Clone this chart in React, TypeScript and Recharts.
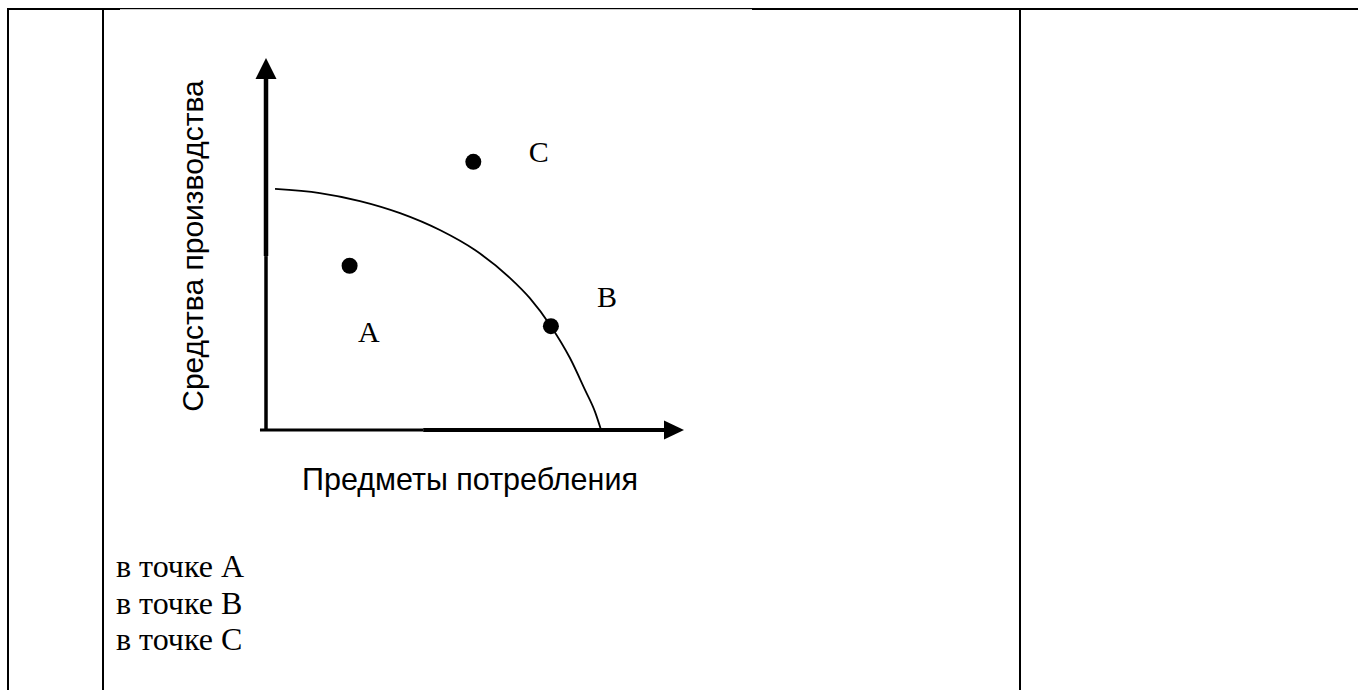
import { ComposedChart, Line, ReferenceLine, Scatter, XAxis, YAxis } from "recharts";

// production possibility frontier (x: consumer goods, y: means of production)
const frontierX = [0.27, 1.61, 2.81, 4.01, 5.2, 6.25, 7.3, 7.89, 8.52, 9.09, 9.54, 9.84, 10.02];
const frontierY = [9.98, 9.81, 9.48, 8.98, 8.28, 7.45, 6.29, 5.46, 4.3, 2.98, 1.66, 0.75, 0];

const pointNames = ["A", "B", "C"];
const pointX = [2.5, 8.52, 6.2];
const pointY = [6.8, 4.3, 11.1];
const labelX = [2.75, 9.9, 7.86];
const labelY = [3.64, 5.09, 11.09];

const answerLines = ["в точке A", "в точке B", "в точке C"];

const xTitle = "Предметы потребления";
const yTitle = "Средства производства";

const X_MAX = 12.5;
const Y_MAX = 15.4;

const frontier = frontierX.map((x, i) => ({ x, y: frontierY[i] }));
const points = pointNames.map((name, i) => ({ name, x: pointX[i], y: pointY[i] }));
const labels = pointNames.map((name, i) => ({ name, x: labelX[i], y: labelY[i] }));
const arrowTips = [
  { x: X_MAX, y: 0, dir: "right" },
  { x: 0, y: Y_MAX, dir: "up" },
];

const serif = '"Liberation Serif", "Times New Roman", serif';
const sans = '"Liberation Sans", Arial, sans-serif';

function Dot(props: any) {
  return <circle cx={props.cx} cy={props.cy} r={8} fill="#000" />;
}

function PointLabel(props: any) {
  return (
    <text x={props.cx} y={props.cy} fontFamily={serif} fontSize={30} fill="#000">
      {props.payload.name}
    </text>
  );
}

function Arrow(props: any) {
  const { cx, cy, payload } = props;
  const pts =
    payload.dir === "right"
      ? `${cx},${cy} ${cx - 20},${cy - 9.5} ${cx - 20},${cy + 9.5}`
      : `${cx},${cy} ${cx - 10.5},${cy + 21} ${cx + 10.5},${cy + 21}`;
  return <polygon points={pts} fill="#000" />;
}

export default function App() {
  return (
    <div style={{ position: "absolute", left: 0, top: 0, width: 1358, height: 690, overflow: "hidden", background: "#fff" }}>
      <div style={{ position: "absolute", left: 150, top: 30 }}>
        <ComposedChart width={600} height={440} margin={{ top: 28, right: 66, bottom: 40, left: 116 }}>
          <XAxis type="number" dataKey="x" domain={[0, X_MAX]} hide />
          <YAxis type="number" dataKey="y" domain={[0, Y_MAX]} hide />
          <ReferenceLine ifOverflow="visible" segment={[{ x: 0, y: 0 }, { x: 0, y: 7.2 }]} stroke="#000" strokeWidth={3.5} />
          <ReferenceLine ifOverflow="visible" segment={[{ x: 0, y: 7.2 }, { x: 0, y: Y_MAX - 0.8 }]} stroke="#000" strokeWidth={4.5} />
          <ReferenceLine ifOverflow="visible" segment={[{ x: -0.18, y: 0 }, { x: 4.7, y: 0 }]} stroke="#000" strokeWidth={3} />
          <ReferenceLine ifOverflow="visible" segment={[{ x: 4.7, y: 0 }, { x: X_MAX - 0.5, y: 0 }]} stroke="#000" strokeWidth={4} />
          <Line
            data={frontier}
            dataKey="y"
            type="monotone"
            stroke="#000"
            strokeWidth={1.8}
            dot={false}
            activeDot={false}
            isAnimationActive={false}
          />
          <Scatter data={arrowTips} dataKey="y" shape={Arrow} isAnimationActive={false} />
          <Scatter data={points} dataKey="y" shape={Dot} isAnimationActive={false} />
          <Scatter data={labels} dataKey="y" shape={PointLabel} isAnimationActive={false} />
        </ComposedChart>
      </div>
      <svg width={1358} height={690} style={{ position: "absolute", left: 0, top: 0, pointerEvents: "none" }}>
        {/* table borders */}
        <rect x={7} y={8} width={113} height={2} fill="#000" />
        <rect x={120} y={8} width={632} height={1.2} fill="#000" />
        <rect x={752} y={8} width={606} height={2} fill="#000" />
        <rect x={7} y={8} width={2} height={682} fill="#000" />
        <rect x={102} y={8} width={2} height={682} fill="#000" />
        <rect x={1019} y={8} width={2} height={682} fill="#000" />
        <text transform="translate(203,246) rotate(-90)" textAnchor="middle" fontFamily={sans} fontSize={30} fill="#000">
          {yTitle}
        </text>
        <text x={470} y={490} textAnchor="middle" fontFamily={sans} fontSize={30.5} fill="#000">
          {xTitle}
        </text>
        {answerLines.map((t, i) => (
          <text key={t} x={116} y={577 + i * 36.6} fontFamily={serif} fontSize={32} fill="#000">
            {t}
          </text>
        ))}
      </svg>
    </div>
  );
}
